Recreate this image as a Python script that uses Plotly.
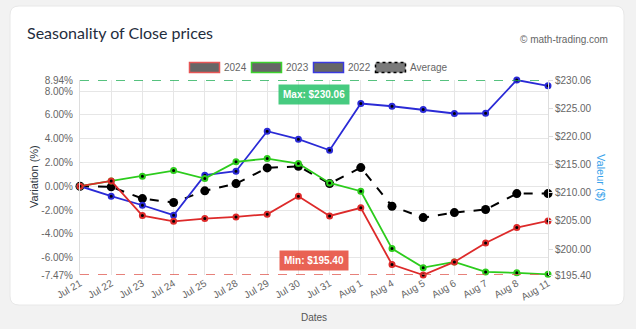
import plotly.graph_objects as go

# Trading days covered by the seasonal window
dates = ["Jul 21", "Jul 22", "Jul 23", "Jul 24", "Jul 25", "Jul 28", "Jul 29", "Jul 30",
         "Jul 31", "Aug 1", "Aug 4", "Aug 5", "Aug 6", "Aug 7", "Aug 8", "Aug 11"]

# Variation of the close price versus the first day (%)
var_2024 = [0.00, 0.45, -2.47, -2.95, -2.72, -2.58, -2.36, -0.84,
            -2.50, -1.82, -6.59, -7.47, -6.37, -4.77, -3.48, -2.92]
var_2023 = [0.00, 0.45, 0.84, 1.32, 0.65, 2.05, 2.33, 1.91,
            0.28, -0.42, -5.25, -6.85, -6.37, -7.21, -7.29, -7.41]
var_2022 = [0.00, -0.84, -1.60, -2.44, 0.93, 1.26, 4.63, 3.96,
            3.03, 6.96, 6.73, 6.45, 6.12, 6.14, 8.94, 8.45]
var_avg = [0.00, -0.05, -1.04, -1.37, -0.39, 0.22, 1.54, 1.68,
           0.22, 1.57, -1.68, -2.64, -2.22, -1.96, -0.62, -0.62]

# Extremes of the window
pct_max, pct_min = 8.94, -7.47
price_max, price_min = 230.06, 195.40

# Axis ticks
pct_ticks = [-7.47, -6, -4, -2, 0, 2, 4, 6, 8, 8.94]
pct_labels = ["-7.47%", "-6.00%", "-4.00%", "-2.00%", "0.00%", "2.00%",
              "4.00%", "6.00%", "8.00%", "8.94%"]
price_ticks = [195.40, 200, 205, 210, 215, 220, 225, 230.06]
price_labels = ["$195.40", "$200.00", "$205.00", "$210.00", "$215.00",
                "$220.00", "$225.00", "$230.06"]

series = [
    ("2024", var_2024, "#dd2a2a"),
    ("2023", var_2023, "#2ccc1c"),
    ("2022", var_2022, "#2a2ad6"),
]

W, H = 636, 329
L, R, T, B = 80, 88, 80, 54
PW, PH = W - L - R, H - T - B


def px(x):
    return (x - L) / PW


def py(y):
    return (H - B - y) / PH


FONT = "Liberation Sans, Arial, sans-serif"
TICK_COLOR = "#666666"

fig = go.Figure()

# Average first, so the yearly lines sit above it
fig.add_trace(go.Scatter(
    x=dates, y=var_avg, name="Average", mode="lines+markers",
    line=dict(color="#000000", width=2, dash="dash"),
    marker=dict(color="#000000", size=9),
    cliponaxis=False, showlegend=False,
))
for name, vals, color in reversed(series):
    fig.add_trace(go.Scatter(
        x=dates, y=vals, name=name, mode="lines+markers",
        line=dict(color=color, width=1.8),
        marker=dict(color="#000000", size=5, line=dict(color=color, width=2)),
        cliponaxis=False, showlegend=False,
    ))

# Carrier for the price axis on the right
fig.add_trace(go.Scatter(
    x=[dates[0], dates[-1]], y=[price_min, price_max], yaxis="y2",
    mode="markers", marker=dict(opacity=0), hoverinfo="skip", showlegend=False,
))

# Card background with rounded corners
cx0, cx1, cy0, cy1, r = 10, 624, 6, 305, 9
rx, ry = r / PW, r / PH
x0, x1, y0, y1 = px(cx0), px(cx1), py(cy1), py(cy0)
path = (f"M {x0 + rx},{y0} L {x1 - rx},{y0} Q {x1},{y0} {x1},{y0 + ry} "
        f"L {x1},{y1 - ry} Q {x1},{y1} {x1 - rx},{y1} L {x0 + rx},{y1} "
        f"Q {x0},{y1} {x0},{y1 - ry} L {x0},{y0 + ry} Q {x0},{y0} {x0 + rx},{y0} Z")
fig.add_shape(type="path", path=path, xref="paper", yref="paper",
              fillcolor="#ffffff", line=dict(color="#e8e8e8", width=1), layer="below")

# Max / min reference lines
fig.add_shape(type="line", xref="paper", yref="y", x0=0, x1=1, y0=pct_max, y1=pct_max,
              line=dict(color="#1fae55", width=1.4, dash="dash"))
fig.add_shape(type="line", xref="paper", yref="y", x0=0, x1=1, y0=pct_min, y1=pct_min,
              line=dict(color="#e0584f", width=1.4, dash="dash"))

# Legend swatches
legend_items = [
    ("2024", 189.5, "#666666", "#e65555", "solid"),
    ("2023", 251.5, "#666666", "#3dd22e", "solid"),
    ("2022", 313.5, "#666666", "#3a3ae0", "solid"),
    ("Average", 375.5, "#7a7a7a", "#000000", "dot"),
]
for label, lx, fill, border, dash in legend_items:
    fig.add_shape(type="rect", xref="paper", yref="paper",
                  x0=px(lx), x1=px(lx + 30), y0=py(72.5), y1=py(62.5),
                  fillcolor=fill, line=dict(color=border, width=1.5, dash=dash))
    fig.add_annotation(x=px(lx + 33), y=py(67.5), xref="paper", yref="paper",
                       text=label, showarrow=False, xanchor="left", yanchor="middle",
                       borderpad=0,
                       font=dict(family=FONT, size=10, color=TICK_COLOR))

# Title and credit
fig.add_annotation(x=px(25), y=py(33), xref="paper", yref="paper",
                   text="Seasonality of Close prices", showarrow=False,
                   xanchor="left", yanchor="middle",
                   font=dict(family="Lato, sans-serif", size=16, color="#1f2d3d"))
fig.add_annotation(x=px(610), y=py(39), xref="paper", yref="paper",
                   text="© math-trading.com", showarrow=False,
                   xanchor="right", yanchor="middle",
                   font=dict(family=FONT, size=10, color="#666666"))

# Axis titles
fig.add_annotation(x=px(34), y=py(177), xref="paper", yref="paper",
                   text="Variation (%)", showarrow=False, textangle=-90,
                   xanchor="center", yanchor="middle",
                   font=dict(family=FONT, size=11, color="#2d3540"))
fig.add_annotation(x=px(601), y=py(177), xref="paper", yref="paper",
                   text="Valeur ($)", showarrow=False, textangle=90,
                   xanchor="center", yanchor="middle",
                   font=dict(family=FONT, size=11, color="#36a2eb"))
fig.add_annotation(x=px(314), y=py(317), xref="paper", yref="paper",
                   text="Dates", showarrow=False, xanchor="center", yanchor="middle",
                   font=dict(family=FONT, size=10, color="#555555"))

# Max / min badges
fig.add_annotation(x=0.5, y=py(94), xref="paper", yref="paper",
                   xanchor="center", yanchor="middle",
                   text=f"<b>Max: ${price_max:.2f}</b>", showarrow=False,
                   bgcolor="rgba(46,196,110,0.88)", borderpad=4,
                   font=dict(family=FONT, size=10, color="#ffffff"))
fig.add_annotation(x=0.5, y=py(260), xref="paper", yref="paper",
                   xanchor="center", yanchor="middle",
                   text=f"<b>Min: ${price_min:.2f}</b>", showarrow=False,
                   bgcolor="rgba(230,76,60,0.88)", borderpad=4,
                   font=dict(family=FONT, size=10, color="#ffffff"))

fig.update_layout(
    width=W, height=H,
    margin=dict(l=L, r=R, t=T, b=B),
    paper_bgcolor="#f2f2f2",
    plot_bgcolor="rgba(0,0,0,0)",
    showlegend=False,
    xaxis=dict(
        type="category", categoryorder="array", categoryarray=dates,
        range=[0, len(dates) - 1],
        showgrid=True, gridcolor="#e6e6e6", gridwidth=1,
        zeroline=False, showline=False, ticks="",
        tickangle=-30, tickfont=dict(family=FONT, size=10, color=TICK_COLOR),
    ),
    yaxis=dict(
        range=[pct_min, pct_max], tickvals=pct_ticks, ticktext=pct_labels,
        showgrid=True, gridcolor="#e6e6e6", gridwidth=1, zeroline=False,
        showline=True, linecolor="#dddddd", ticks="", ticklabelstandoff=4,
        tickfont=dict(family=FONT, size=10, color=TICK_COLOR),
    ),
    yaxis2=dict(
        overlaying="y", side="right",
        range=[price_min, price_max], tickvals=price_ticks, ticktext=price_labels,
        showgrid=False, zeroline=False, showline=True, linecolor="#dddddd",
        ticks="outside", ticklen=4, tickcolor="#dddddd",
        tickfont=dict(family=FONT, size=10, color=TICK_COLOR),
    ),
)

fig.write_html("out.html")
